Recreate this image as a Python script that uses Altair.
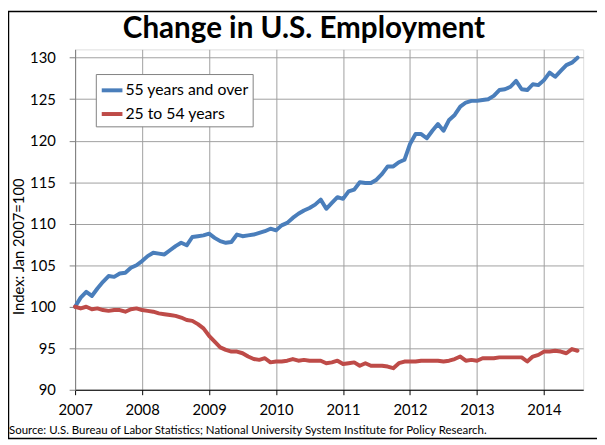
import altair as alt
import pandas as pd

# ---- data (monthly, Jan 2007 .. Jul 2014), index Jan 2007 = 100 ----
start_year = 2007
series_names = ["55 years and over", "25 to 54 years"]
series_colors = ["#4A7EBB", "#BE4B48"]

age_55_over = [
    100.0, 101.1, 101.8, 101.3, 102.2, 103.0, 103.7, 103.6, 104.0, 104.1, 104.7, 105.0,
    105.5, 106.1, 106.5, 106.4, 106.3, 106.8, 107.3, 107.7, 107.4, 108.4, 108.5, 108.6,
    108.8, 108.3, 107.9, 107.7, 107.8, 108.7, 108.5, 108.6, 108.7, 108.9, 109.1, 109.4,
    109.2, 109.8, 110.1, 110.7, 111.2, 111.6, 111.9, 112.3, 112.9, 111.8, 112.5, 113.2,
    113.0, 113.9, 114.1, 115.0, 114.9, 114.9, 115.3, 116.0, 116.9, 116.9, 117.4, 117.7,
    119.6, 120.8, 120.8, 120.3, 121.2, 122.0, 121.2, 122.5, 123.1, 124.1, 124.6, 124.8,
    124.8, 124.9, 125.0, 125.4, 126.1, 126.2, 126.5, 127.2, 126.2, 126.1, 126.8, 126.7,
    127.3, 128.2, 127.7, 128.4, 129.1, 129.4, 130.0,
]
age_25_54 = [
    100.0, 99.8, 100.0, 99.7, 99.8, 99.6, 99.5, 99.6, 99.6, 99.4, 99.7, 99.8,
    99.6, 99.5, 99.4, 99.2, 99.1, 99.0, 98.9, 98.7, 98.4, 98.3, 97.9, 97.4,
    96.5, 95.8, 95.1, 94.8, 94.6, 94.6, 94.4, 94.0, 93.7, 93.6, 93.8, 93.3,
    93.4, 93.4, 93.5, 93.7, 93.5, 93.6, 93.5, 93.5, 93.5, 93.2, 93.3, 93.5,
    93.1, 93.2, 93.3, 92.9, 93.2, 92.9, 92.9, 92.9, 92.8, 92.6, 93.2, 93.4,
    93.4, 93.4, 93.5, 93.5, 93.5, 93.5, 93.4, 93.5, 93.7, 94.0, 93.5, 93.6,
    93.5, 93.8, 93.8, 93.8, 93.9, 93.9, 93.9, 93.9, 93.9, 93.4, 94.0, 94.2,
    94.6, 94.6, 94.7, 94.6, 94.4, 94.9, 94.7,
]
year_ticks = [2007, 2008, 2009, 2010, 2011, 2012, 2013, 2014]
y_ticks = [90, 95, 100, 105, 110, 115, 120, 125, 130]

title_text = "Change in U.S. Employment"
y_title = "Index: Jan 2007=100"
source_text = ("Source: U.S. Bureau of Labor Statistics; National University System "
               "Institute for Policy Research.")

rows = []
for name, vals in zip(series_names, [age_55_over, age_25_54]):
    for i, v in enumerate(vals):
        rows.append({"year": start_year + i / 12, "value": v, "series": name})
df = pd.DataFrame(rows)

FONT = "Lato"
W, H = 515, 345

lines = alt.Chart(df).mark_line(strokeWidth=4, strokeJoin="round", strokeCap="round").encode(
    x=alt.X("year:Q",
            scale=alt.Scale(domain=[2007, 2014.585], nice=False, zero=False),
            axis=alt.Axis(values=year_ticks, format="d", title=None, grid=True,
                          gridColor="#a0a0a0", domainColor="#000000", tickColor="#000000",
                          tickSize=5, labelPadding=8, labelFontSize=15, labelColor="#000000",
                          labelFont=FONT, labelFlush=False)),
    y=alt.Y("value:Q",
            scale=alt.Scale(domain=[90, 131], nice=False, zero=False),
            axis=alt.Axis(values=y_ticks, title=None, grid=True, gridColor="#a0a0a0",
                          domainColor="#808080", tickColor="#808080", tickSize=6,
                          labelPadding=14, labelFontSize=15, labelColor="#000000",
                          labelFont=FONT)),
    color=alt.Color("series:N",
                    scale=alt.Scale(domain=series_names, range=series_colors),
                    sort=series_names,
                    legend=alt.Legend(orient="none", legendX=21, legendY=25, title=None,
                                      symbolType="stroke", symbolStrokeWidth=4,
                                      symbolSize=440, labelFontSize=16, labelFont=FONT,
                                      labelColor="#000000", fillColor="white",
                                      strokeColor="#808080", padding=4, rowPadding=3,
                                      labelOffset=1, offset=0)),
    order=alt.Order("year:Q"),
)

title_mark = alt.Chart(pd.DataFrame({"t": [title_text]})).mark_text(
    font=FONT, fontSize=30, fontWeight="bold", align="center", baseline="alphabetic",
    color="#000000"
).encode(x=alt.value(232), y=alt.value(-12), text="t:N")

ytitle_mark = alt.Chart(pd.DataFrame({"t": [y_title]})).mark_text(
    font=FONT, fontSize=15, angle=270, align="center", baseline="middle", color="#000000"
).encode(x=alt.value(-57), y=alt.value(200), text="t:N")

source_mark = alt.Chart(pd.DataFrame({"t": [source_text]})).mark_text(
    font=FONT, fontSize=11.6, align="left", baseline="alphabetic", color="#000000"
).encode(x=alt.value(-67), y=alt.value(390), text="t:N")

frame = alt.Chart(pd.DataFrame({"a": [0]})).mark_rect(
    fill=None, fillOpacity=0, stroke="#000000", strokeWidth=1.5
).encode(x=alt.value(-67.5), x2=alt.value(540), y=alt.value(-38.5), y2=alt.value(394.5))

chart = alt.layer(frame, lines, title_mark, ytitle_mark, source_mark).properties(
    width=W, height=H,
    autosize=alt.AutoSizeParams(type="none"),
    padding={"left": 68, "top": 39, "right": 14, "bottom": 50},
    background="white",
).configure_view(stroke="#a0a0a0").configure(font=FONT)

chart.save("out.html", embed_options={"renderer": "svg", "actions": False})
